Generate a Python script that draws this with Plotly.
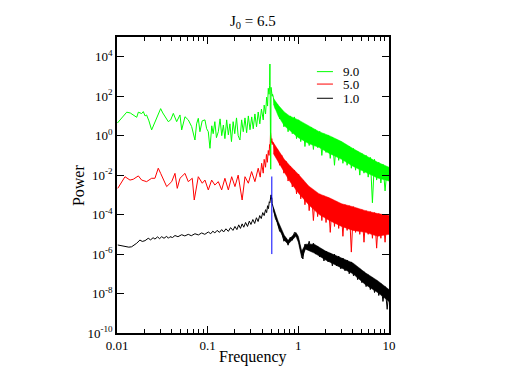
import plotly.graph_objects as go

# shared frequency grid for the dense high-frequency tail
f_hi = [0.530, 0.559, 0.590, 0.622, 0.657, 0.693, 0.731, 0.771, 0.813, 0.858,
        0.905, 0.955, 1.008, 1.063, 1.122, 1.183, 1.248, 1.317, 1.390, 1.466,
        1.547, 1.632, 1.721, 1.816, 1.916, 2.021, 2.132, 2.250, 2.373, 2.504,
        2.641, 2.787, 2.940, 3.102, 3.272, 3.452, 3.642, 3.843, 4.054, 4.277,
        4.512, 4.760, 5.022, 5.299, 5.590, 5.897, 6.222, 6.564, 6.925, 7.306,
        7.708, 8.132, 8.579, 9.051, 9.549, 10.0]

# values below are log10(power)
green_f_lo = [0.0101, 0.0115, 0.0128, 0.0140, 0.0151, 0.0165, 0.0172, 0.0187, 0.0195, 0.0204,
              0.0212, 0.0225, 0.0241, 0.0262, 0.0280, 0.0303, 0.0320, 0.0338, 0.0368, 0.0391,
              0.0418, 0.0455, 0.0495, 0.0517, 0.0562, 0.0611, 0.0666, 0.0724, 0.0755, 0.0788,
              0.0822, 0.0870, 0.0933, 0.0975, 0.1016, 0.106, 0.111, 0.115, 0.120, 0.125,
              0.131, 0.137, 0.143, 0.149, 0.155, 0.162, 0.169, 0.176, 0.183, 0.191,
              0.199, 0.208, 0.217, 0.227, 0.237, 0.247, 0.258, 0.269, 0.281, 0.293,
              0.306, 0.318, 0.332, 0.346, 0.361, 0.376, 0.392, 0.410, 0.420, 0.435,
              0.447, 0.458, 0.466, 0.475, 0.482, 0.486, 0.488, 0.492, 0.496, 0.500,
              0.505, 0.510, 0.515, 0.520]
green_lo = [0.64, 0.95, 1.19, 1.15, 1.05, 0.93, 1.19, 1.12, 1.22, 1.00,
            1.05, 0.75, 0.29, 0.71, 1.05, 1.37, 1.15, 0.96, 0.71, 0.80,
            1.13, 0.71, 1.05, 0.29, 0.96, 0.80, 0.46, -0.22, 0.60, 0.88,
            0.20, 0.75, 0.80, 0.35, 0.20, -0.64, 0.50, 0.10, 0.71, -0.10,
            0.20, 0.85, 0.00, 0.54, -0.15, 0.80, 0.04, 0.60, -0.30, 0.71,
            0.10, 0.90, 0.00, -0.22, 0.80, 0.20, 0.90, 0.15, 1.00, 0.30,
            0.95, 0.35, 1.10, 0.45, 1.20, 0.60, 1.35, 0.80, 1.55, 1.10,
            1.95, 1.50, 2.40, 2.10, 2.55, 3.63, 2.50, 2.60, -1.70, 2.45,
            2.20, 2.30, 2.00, 2.10]
green_hi = [1.95, 1.35, 1.60, 0.85, 1.30, 0.45, 1.10, 0.20, 1.00, 0.10,
            0.95, -0.15, 0.80, -0.30, 0.62, -0.55, 0.50, -0.50, 0.42, -0.70,
            0.30, -0.60, 0.22, -1.00, 0.10, -0.85, 0.02, -1.15, -0.08, -1.50,
            -0.20, -1.25, -0.30, -1.40, -0.45, -1.50, -0.55, -1.65, -0.65, -1.75,
            -0.80, -2.00, -0.90, -1.90, -1.00, -2.10, -1.10, -3.40, -1.20, -2.25,
            -1.35, -2.40, -1.45, -2.80, -1.60, -2.30]

red_f_lo = [0.0102, 0.01225, 0.0139, 0.0151, 0.0172, 0.0187, 0.0212, 0.0241, 0.0262, 0.0285,
            0.0303, 0.0353, 0.0401, 0.0436, 0.0462, 0.0495, 0.0562, 0.0611, 0.0676, 0.0711,
            0.0788, 0.0872, 0.0933, 0.1016, 0.1107, 0.120, 0.131, 0.1427, 0.155, 0.169,
            0.184, 0.200, 0.217, 0.240, 0.258, 0.281, 0.305, 0.332, 0.361, 0.380,
            0.394, 0.410, 0.420, 0.435, 0.445, 0.455, 0.466, 0.475, 0.482, 0.488,
            0.494, 0.500, 0.505, 0.510, 0.515, 0.520]
red_lo = [-2.67, -2.08, -2.25, -2.21, -2.04, -2.25, -2.33, -2.16, -2.16, -1.65,
          -1.91, -2.58, -2.33, -1.91, -2.67, -2.16, -1.91, -2.33, -2.16, -3.26,
          -2.08, -2.41, -2.25, -2.75, -2.25, -2.50, -2.33, -2.75, -2.16, -2.75,
          -2.08, -2.58, -2.00, -3.26, -2.08, -2.41, -1.82, -2.33, -1.65, -2.10,
          -1.40, -1.90, -1.20, -1.60, -0.95, -1.35, -0.75, -1.00, -0.45, -0.60,
          0.15, -0.10, -0.35, -0.15, -0.45, -0.30]
red_hi = [-0.35, -1.00, -0.70, -1.50, -1.00, -1.90, -1.30, -2.30, -1.55, -2.60,
          -1.75, -2.95, -1.95, -3.20, -2.25, -3.50, -2.50, -3.80, -2.70, -4.30,
          -2.85, -4.10, -2.95, -4.30, -3.05, -4.40, -3.15, -4.90, -3.25, -4.60,
          -3.35, -4.70, -3.45, -5.10, -3.50, -4.80, -3.55, -5.90, -3.60, -4.90,
          -3.70, -5.00, -3.75, -5.40, -3.80, -5.00, -3.85, -5.20, -3.90, -5.70,
          -3.95, -5.20, -4.00, -5.40, -4.05, -5.00]

black_f_lo = [0.0102, 0.0115, 0.01225, 0.0135, 0.0145, 0.0155, 0.0165, 0.0179, 0.0190, 0.0204,
              0.0221, 0.0235, 0.0250, 0.0262, 0.0280, 0.0295, 0.0311, 0.0330, 0.0353, 0.0369,
              0.0384, 0.0410, 0.0436, 0.0470, 0.0517, 0.0560, 0.0611, 0.0660, 0.0724, 0.0790,
              0.0859, 0.0930, 0.1016, 0.108, 0.114, 0.120, 0.127, 0.135, 0.1427, 0.150,
              0.159, 0.169, 0.179, 0.190, 0.200, 0.210, 0.220, 0.230, 0.240, 0.250,
              0.262, 0.275, 0.288, 0.300, 0.315, 0.330, 0.345, 0.360, 0.375, 0.390,
              0.405, 0.420, 0.435, 0.447, 0.458, 0.468, 0.478, 0.486, 0.493, 0.500,
              0.505, 0.510, 0.515, 0.520]
black_lo = [-5.54, -5.60, -5.63, -5.65, -5.63, -5.55, -5.45, -5.29, -5.36, -5.32,
            -5.20, -5.28, -5.17, -5.24, -5.13, -5.22, -5.12, -5.20, -5.10, -5.20,
            -5.12, -5.16, -5.06, -5.12, -5.02, -5.08, -5.00, -5.07, -4.97, -5.03,
            -4.93, -5.00, -4.88, -4.97, -4.84, -4.93, -4.80, -4.90, -4.76, -4.88,
            -4.72, -4.85, -4.66, -4.80, -4.60, -4.76, -4.52, -4.70, -4.47, -4.64,
            -4.40, -4.60, -4.33, -4.50, -4.25, -4.45, -4.16, -4.35, -4.05, -4.20,
            -3.90, -4.05, -3.75, -3.90, -3.55, -3.70, -3.35, -3.40, -3.10, -3.00,
            -3.20, -3.15, -3.45, -3.50]
black_hi = [-3.65, -4.20, -4.40, -4.85, -4.90, -5.35, -5.20, -5.55, -5.15, -5.30,
            -4.90, -5.00, -5.30, -5.80, -6.25, -5.50, -5.75, -5.35, -5.85, -5.45,
            -6.00, -5.60, -6.15, -5.75, -6.35, -5.85, -6.40, -5.95, -6.60, -6.00,
            -6.60, -6.10, -6.75, -6.20, -6.85, -6.30, -7.00, -6.40, -7.10, -6.60,
            -7.30, -6.75, -7.45, -6.90, -7.65, -7.05, -7.80, -7.20, -7.95, -7.35,
            -8.10, -7.50, -8.40, -7.65, -8.80, -7.80]

# dense core of the noisy tails (top / bottom edge, log10 power)
band_f = [0.53, 0.60, 0.70, 0.80, 1.0, 1.3, 1.7, 2.2, 3.0, 4.0, 5.5, 7.5, 10.0]
green_band_top = [1.90, 1.55, 1.20, 1.00, 0.80, 0.50, 0.20, 0.00, -0.30, -0.65, -1.00, -1.35, -1.60]
green_band_bot = [1.60, 1.00, 0.50, 0.25, -0.10, -0.40, -0.60, -0.90, -1.20, -1.55, -1.85, -2.15, -2.30]
red_band_top = [-0.35, -0.75, -1.20, -1.50, -1.95, -2.55, -2.95, -3.15, -3.45, -3.60, -3.80, -3.95, -4.05]
red_band_bot = [-0.90, -1.35, -1.85, -2.30, -2.90, -3.50, -4.00, -4.30, -4.60, -4.80, -4.90, -5.10, -5.00]
black_band_f = [0.53, 0.60, 0.70, 0.77, 0.85, 0.94, 1.0, 1.09, 1.2, 1.5, 2.0, 3.0, 4.0, 5.5, 7.5, 10.0]
black_band_top = [-3.62, -4.35, -5.05, -5.30, -5.10, -4.90, -5.10, -5.85, -5.50, -5.50, -5.85,
                  -6.20, -6.45, -6.95, -7.35, -7.80]
black_band_bot = [-3.80, -4.60, -5.30, -5.50, -5.30, -5.10, -5.40, -6.20, -5.75, -5.95, -6.30,
                  -6.70, -7.00, -7.55, -7.95, -8.40]

# blue marker line at the driving frequency
blue_f = [0.51, 0.51]
blue_lo = [-2.07, -6.0]

font = "Liberation Serif, Times New Roman, serif"


def pw(exps):
    return [10 ** e for e in exps]


fig = go.Figure()

bands = [
    ("#ff0000", band_f, red_band_top, red_band_bot),
    ("#00ff00", band_f, green_band_top, green_band_bot),
    ("#000000", black_band_f, black_band_top, black_band_bot),
]
for color, bf, top, bot in bands:
    fig.add_trace(go.Scatter(
        x=bf + bf[::-1], y=pw(top + bot[::-1]), mode="lines", fill="toself",
        fillcolor=color, line=dict(color=color, width=0.5),
        hoverinfo="skip", showlegend=False))

series = [
    ("5.0", "#ff0000", red_f_lo, red_lo, red_hi),
    ("9.0", "#00ff00", green_f_lo, green_lo, green_hi),
    ("1.0", "#000000", black_f_lo, black_lo, black_hi),
]
for name, color, f_lo, p_lo, p_hi in series:
    fig.add_trace(go.Scatter(
        x=f_lo + f_hi, y=pw(p_lo + p_hi), name=name, mode="lines",
        line=dict(color=color, width=1), showlegend=False))

fig.add_trace(go.Scatter(x=blue_f, y=pw(blue_lo), mode="lines",
                         line=dict(color="#0000ff", width=1), showlegend=False))

# legend drawn by hand to get the tight xmgrace spacing
legend_rows = [("9.0", "#00ff00", 0.883), ("5.0", "#ff0000", 0.841), ("1.0", "#000000", 0.793)]
for label, color, yy in legend_rows:
    fig.add_shape(type="line", xref="paper", yref="paper", x0=0.735, x1=0.794,
                  y0=yy, y1=yy, line=dict(color=color, width=1))
    fig.add_annotation(xref="paper", yref="paper", x=0.822, y=yy, text=label,
                       showarrow=False, xanchor="left", yanchor="middle",
                       font=dict(family=font, size=13, color="black"))

# title and axis titles
fig.add_annotation(xref="paper", yref="paper", x=0.5, y=1.015, text="J<sub>0</sub> = 6.5",
                   showarrow=False, xanchor="center", yanchor="bottom",
                   font=dict(family=font, size=15, color="black"))
fig.add_annotation(xref="paper", yref="paper", x=0.5, y=-0.081, text="Frequency",
                   showarrow=False, xanchor="center", yanchor="middle",
                   font=dict(family=font, size=16, color="black"))
fig.add_annotation(xref="paper", yref="paper", x=-0.143, y=0.5, text="Power",
                   textangle=-90, showarrow=False, xanchor="center", yanchor="middle",
                   font=dict(family=font, size=16, color="black"))

x_major = [0.01, 0.1, 1, 10]
x_minor = [m * d for d in (0.01, 0.1, 1) for m in range(2, 10)]
y_major = [10 ** k for k in range(-10, 5, 2)]
y_text = ["10<sup>%d</sup>" % k for k in range(-10, 5, 2)]

axis = dict(showline=True, linecolor="black", linewidth=1.5, mirror="ticks",
            ticks="inside", ticklen=7, tickcolor="black", tickwidth=1,
            showgrid=False, zeroline=False,
            tickfont=dict(family=font, size=13, color="black"))

fig.update_xaxes(type="log", range=[-2, 1], tickvals=x_major,
                 ticktext=["0.01", "0.1", "1", "10"],
                 minor=dict(tickvals=x_minor, ticks="inside", ticklen=4,
                            tickcolor="black", showgrid=False),
                 **axis)
fig.update_yaxes(type="log", range=[-10, 5], tickvals=y_major, ticktext=y_text, **axis)

# page body adds an 8px margin, so the figure is sized to fit inside it
fig.update_layout(
    width=499, height=384,
    margin=dict(l=109, r=118, t=29, b=59),
    paper_bgcolor="white", plot_bgcolor="white",
    showlegend=False,
)

fig.write_html("out.html")
